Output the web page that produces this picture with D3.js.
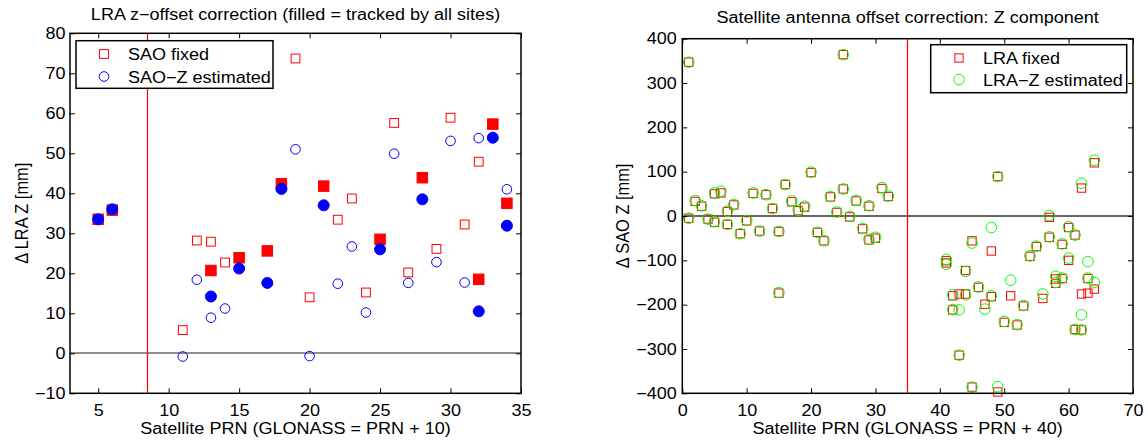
<!DOCTYPE html>
<html>
<head>
<meta charset="utf-8">
<script src="https://cdn.jsdelivr.net/npm/d3@7"></script>
<style>
body { margin: 0; background: #fff; }
svg text { font-family: "Liberation Sans", Arial, Helvetica, sans-serif; fill: #000; }
</style>
</head>
<body>
<svg id="chart" width="1148" height="441"></svg>
<script>
// left panel: LRA z-offset, filled = tracked by all sites
const prnAll = [5, 6, 13, 15, 17, 18, 21, 25, 28, 32, 33, 34];
const saoFixedAll = [33.5, 35.8, 20.7, 23.9, 25.6, 42.4, 41.8, 28.5, 43.9, 18.5, 57.3, 37.5];
const saoZAll = [33.5, 36.0, 14.2, 21.2, 17.6, 41.1, 37.0, 26.0, 38.5, 10.5, 53.9, 31.9];
const prnPart = [11, 12, 13, 14, 19, 20, 22, 23, 24, 26, 27, 29, 30, 31, 32, 34];
const saoFixedPart = [5.8, 28.2, 27.9, 22.7, 73.7, 14.0, 33.4, 38.7, 15.2, 57.6, 20.2, 26.1, 58.9, 32.2, 47.9, null];
const saoZPart = [-0.8, 18.4, 8.9, 11.2, 51.0, -0.7, 17.4, 26.7, 10.2, 49.9, 17.6, 22.8, 53.1, 17.7, 53.8, 41.0];

// right panel: satellite antenna offset Z
const prnSat = [1, 1, 2, 3, 4, 5, 5, 6, 7, 7, 8, 9, 10, 11, 12, 13, 14, 15, 15, 16,
  17, 18, 19, 20, 21, 22, 23, 24, 25, 25, 26, 27, 28, 29, 29, 30, 31, 32,
  41, 41, 42, 42, 43, 43, 44, 44, 45, 45, 46, 47, 48, 48, 49, 49, 50, 51, 52, 53,
  54, 55, 56, 57, 57, 58, 58, 59, 59, 60, 60, 61, 61, 62, 62, 62, 63, 63, 64, 64];
const lraFixed = [347, -5, 33, 22, -7, 50, -14, 52, 10, -19, 25, -40, -11, 51, -34, 48, 17, -35, -174, 71,
  32, 12, 20, 98, -37, -56, 43, 8, 61, 364, -2, 34, -29, 22, -54, -50, 62, 44,
  -101, -106, -180, -212, -176, -314, -123, -176, -56, -386, -161, -199, -79, -182, 89, -397, -240, -180, -246, -203,
  -91, -69, -186, -3, -48, -152, -142, -64, -141, -26, -100, -43, -256, 63, -176, -257, -174, -141, 120, -165];
const lraZ = [347, -5, 35, 23, -7, 52, -13, 56, 11, -19, 26, -40, -10, 52, -34, 48, 17, -35, -173, 71,
  34, 13, 22, 99, -37, -56, 44, 9, 61, 364, -1, 35, -28, 23, -53, -48, 64, 45,
  -98, -109, -178, -211, -212, -314, -125, -178, -61, -386, -160, -210, -26, -180, 89, -385, -238, -145, -245, -202,
  -90, -68, -176, 1, -47, -150, -136, -63, -140, -24, -95, -43, -256, 74, -223, -257, -103, -140, 126, -150];

const xTicksL = [5, 10, 15, 20, 25, 30, 35];
const yTicksL = [-10, 0, 10, 20, 30, 40, 50, 60, 70, 80];
const xTicksR = [0, 10, 20, 30, 40, 50, 60, 70];
const yTicksR = [-400, -300, -200, -100, 0, 100, 200, 300, 400];

const SX = 1.1, FS = 16.4; // text is a bit wide in the original
const RED = "#ff0000", BLUE = "#0000ff", GREEN = "#00ff00";

const svg = d3.select("#chart");

function txt(g, x, y, s, anchor, rot) {
  return g.append("text")
    .attr("transform", `translate(${x},${y}) scale(${SX},1)` + (rot ? ` rotate(${rot})` : ""))
    .attr("text-anchor", anchor || "middle")
    .style("font-size", FS + "px")
    .text(s);
}

function panel(c) {
  const g = svg.append("g");
  const x = d3.scaleLinear().domain(c.xDomain).range([c.left, c.right]);
  const y = d3.scaleLinear().domain(c.yDomain).range([c.bottom, c.top]);
  const back = g.append("g"), marks = g.append("g"), front = g.append("g");

  // reference lines
  const y0 = Math.round(y(0));
  back.append("line")
    .attr("x1", c.left).attr("x2", c.right)
    .attr("y1", y0).attr("y2", y0)
    .attr("stroke", c.zeroColor).attr("stroke-width", 1.6);
  const xs = Math.floor(x(c.split)) + 0.5;
  back.append("line")
    .attr("x1", xs).attr("x2", xs)
    .attr("y1", c.top).attr("y2", c.bottom)
    .style("stroke", RED).attr("stroke-width", 1.2);

  // ticks on all four sides, pointing inwards
  const axes = [
    [d3.axisBottom(x).tickValues(c.xTicks).tickPadding(11), `translate(0,${c.bottom})`, true],
    [d3.axisTop(x).tickValues(c.xTicks), `translate(0,${c.top})`, false],
    [d3.axisLeft(y).tickValues(c.yTicks).tickPadding(c.yPad), `translate(${c.left},0)`, true],
    [d3.axisRight(y).tickValues(c.yTicks), `translate(${c.right},0)`, false]
  ];
  axes.forEach(([ax, tr, labels]) => {
    ax.tickSizeInner(-5).tickSizeOuter(0);
    if (!labels) ax.tickFormat(() => "");
    const a = front.append("g").attr("transform", tr).call(ax);
    a.select(".domain").remove();
    a.selectAll(".tick line").attr("stroke", "#000");
    a.selectAll(".tick text")
      .attr("font-family", null).attr("font-size", null)
      .style("font-size", FS + "px")
      .attr("transform", `scale(${SX},1)`);
  });
  front.append("rect")
    .attr("x", c.left).attr("y", c.top)
    .attr("width", c.right - c.left).attr("height", c.bottom - c.top)
    .attr("fill", "none").attr("stroke", "#000").attr("stroke-width", 1.5);

  const mid = (c.left + c.right) / 2;
  txt(g, mid, c.titleY, c.title);
  txt(g, mid, 433.5, c.xLabel);
  txt(g, c.yLabelX, (c.top + c.bottom) / 2, c.yLabel, "middle", -90);

  return { g, x, y, marks };
}

function squares(sel, xs, ys, size, color, filled) {
  const pts = xs.map((v, i) => [v, ys[i]]).filter(d => d[1] != null);
  sel.append("g").selectAll("rect").data(pts).join("rect")
    .attr("x", d => d[0] - size / 2).attr("y", d => d[1] - size / 2)
    .attr("width", size).attr("height", size)
    .attr("fill", filled ? color : "none")
    .attr("stroke", color).attr("stroke-width", 1);
}

function circles(sel, xs, ys, r, color, filled) {
  const pts = xs.map((v, i) => [v, ys[i]]).filter(d => d[1] != null);
  sel.append("g").selectAll("circle").data(pts).join("circle")
    .attr("cx", d => d[0]).attr("cy", d => d[1]).attr("r", r)
    .attr("fill", filled ? color : "none")
    .attr("stroke", color).attr("stroke-width", 1);
}

function legend(g, bx, by, bw, bh, mx, tx, rows) {
  const lg = g.append("g");
  lg.append("rect").attr("x", bx).attr("y", by).attr("width", bw).attr("height", bh)
    .attr("fill", "#fff").attr("stroke", "#000").attr("stroke-width", 1.5);
  rows.forEach(r => {
    if (r.shape === "square") squares(lg, [mx], [r.y], r.size, r.color, false);
    else circles(lg, [mx], [r.y], r.size, r.color, false);
    txt(lg, tx, r.y + 6, r.label, "start");
  });
}

// ---- left panel
const L = panel({
  left: 70, right: 521, top: 33.3, bottom: 393.3,
  xDomain: [3, 35], yDomain: [-10, 80],
  xTicks: xTicksL, yTicks: yTicksL, yPad: 4,
  split: 8.5, zeroColor: "#6a6a6a",
  title: "LRA z\u2212offset correction (filled = tracked by all sites)", titleY: 20,
  xLabel: "Satellite PRN (GLONASS = PRN + 10)",
  yLabel: "\u0394 LRA Z [mm]", yLabelX: 28.3
});
squares(L.marks, prnPart.map(L.x), saoFixedPart.map(v => v == null ? null : L.y(v)), 8.8, RED, false);
squares(L.marks, prnAll.map(L.x), saoFixedAll.map(L.y), 10.5, RED, true);
circles(L.marks, prnPart.map(L.x), saoZPart.map(L.y), 4.8, BLUE, false);
circles(L.marks, prnAll.map(L.x), saoZAll.map(L.y), 5.5, BLUE, true);
legend(L.g, 76, 40.7, 197, 47.6, 104, 128, [
  { shape: "square", size: 8.8, color: RED, label: "SAO fixed", y: 54 },
  { shape: "circle", size: 4.8, color: BLUE, label: "SAO\u2212Z estimated", y: 76.5 }
]);

// ---- right panel
const R = panel({
  left: 682.3, right: 1133, top: 38.7, bottom: 393.3,
  xDomain: [0, 70], yDomain: [-400, 400],
  xTicks: xTicksR, yTicks: yTicksR, yPad: 5,
  split: 35, zeroColor: "#333",
  title: "Satellite antenna offset correction: Z component", titleY: 22.5,
  xLabel: "Satellite PRN (GLONASS = PRN + 40)",
  yLabel: "\u0394 SAO Z [mm]", yLabelX: 629
});
squares(R.marks, prnSat.map(R.x), lraFixed.map(R.y), 8.3, RED, false);
circles(R.marks, prnSat.map(R.x), lraZ.map(R.y), 5.3, GREEN, false);
legend(R.g, 930.7, 44.7, 196, 48, 959, 983, [
  { shape: "square", size: 8.3, color: RED, label: "LRA fixed", y: 58 },
  { shape: "circle", size: 5.3, color: GREEN, label: "LRA\u2212Z estimated", y: 79.5 }
]);
</script>
</body>
</html>
